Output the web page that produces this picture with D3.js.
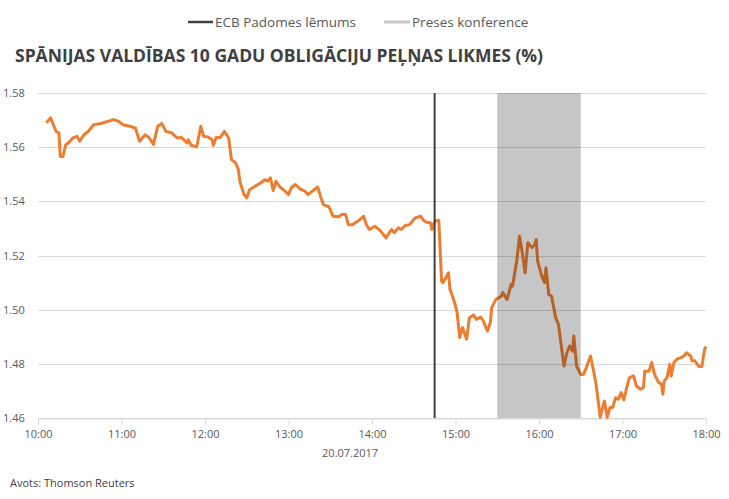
<!DOCTYPE html>
<html>
<head>
<meta charset="utf-8">
<script src="https://cdn.jsdelivr.net/npm/d3@7"></script>
<style>
  body { margin: 0; background: #fff; }
  text { font-family: 'Open Sans', sans-serif; fill: #595959; }
</style>
</head>
<body>
<div id="chart"></div>
<script>
// yield series
const times = ['10:06', '10:09', '10:11', '10:13', '10:15', '10:16', '10:18', '10:20', '10:22', '10:25',
  '10:28', '10:30', '10:33', '10:36', '10:40', '10:45', '10:47', '10:52', '10:54', '10:58',
  '11:01', '11:06', '11:10', '11:13', '11:17', '11:20', '11:23', '11:26', '11:29', '11:32',
  '11:36', '11:40', '11:43', '11:47', '11:48', '11:50', '11:54', '11:57', '11:59', '12:02',
  '12:05', '12:06', '12:08', '12:11', '12:14', '12:17', '12:19', '12:22', '12:24', '12:25',
  '12:28', '12:30', '12:32', '12:36', '12:39', '12:43', '12:45', '12:47', '12:49', '12:51',
  '12:54', '12:57', '13:00', '13:02', '13:05', '13:08', '13:12', '13:14', '13:18', '13:21',
  '13:23', '13:25', '13:29', '13:32', '13:36', '13:38', '13:41', '13:43', '13:46', '13:50',
  '13:54', '13:56', '13:58', '14:02', '14:06', '14:10', '14:14', '14:16', '14:19', '14:21',
  '14:24', '14:27', '14:31', '14:35', '14:37', '14:39', '14:42', '14:43', '14:45', '14:48',
  '14:50', '14:51', '14:53', '14:55', '14:56', '14:59', '15:01', '15:03', '15:05', '15:08',
  '15:10', '15:13', '15:15', '15:18', '15:20', '15:23', '15:25', '15:26', '15:29', '15:33',
  '15:34', '15:37', '15:40', '15:41', '15:44', '15:46', '15:48', '15:50', '15:52', '15:55',
  '15:57', '15:58', '15:59', '16:02', '16:04', '16:05', '16:07', '16:09', '16:12', '16:14',
  '16:16', '16:18', '16:20', '16:22', '16:24', '16:25', '16:27', '16:30', '16:32', '16:34',
  '16:37', '16:39', '16:41', '16:44', '16:47', '16:49', '16:51', '16:53', '16:55', '16:57',
  '16:59', '17:01', '17:03', '17:05', '17:08', '17:10', '17:13', '17:15', '17:16', '17:19',
  '17:21', '17:23', '17:26', '17:28', '17:29', '17:30', '17:32', '17:34', '17:35', '17:37',
  '17:39', '17:42', '17:44', '17:46', '17:49', '17:50', '17:52', '17:55', '17:57', '17:59',
  '18:00'];

const yields = [1.569, 1.5708, 1.5683, 1.5658, 1.5653, 1.5566, 1.5566, 1.561, 1.5616, 1.5634,
  1.564, 1.5622, 1.5646, 1.5658, 1.5683, 1.5687, 1.569, 1.5698, 1.5702, 1.5695,
  1.5683, 1.5677, 1.5671, 1.5622, 1.5646, 1.5634, 1.561, 1.5677, 1.5687, 1.5658,
  1.5653, 1.5634, 1.5636, 1.5616, 1.5628, 1.5607, 1.5601, 1.5677, 1.564, 1.5638,
  1.5628, 1.5607, 1.5636, 1.5636, 1.5658, 1.5634, 1.5554, 1.5542, 1.5517, 1.5474,
  1.5425, 1.5413, 1.5443, 1.5456, 1.5465, 1.548, 1.5474, 1.5487, 1.544, 1.5474,
  1.5452, 1.544, 1.5425, 1.545, 1.5462, 1.5447, 1.5437, 1.5425, 1.5441, 1.5453,
  1.5419, 1.5388, 1.538, 1.5345, 1.5343, 1.5351, 1.5351, 1.5314, 1.5314, 1.5327,
  1.5345, 1.5314, 1.5296, 1.5308, 1.5292, 1.5265, 1.5296, 1.5284, 1.5302, 1.5296,
  1.5311, 1.5314, 1.5339, 1.5345, 1.533, 1.5323, 1.5321, 1.5296, 1.5327, 1.533,
  1.5105, 1.51, 1.5118, 1.5136, 1.5075, 1.5032, 1.4995, 1.4897, 1.4934, 1.4891,
  1.497, 1.498, 1.4964, 1.4973, 1.4958, 1.4921, 1.4952, 1.5007, 1.5038, 1.505,
  1.5063, 1.5038, 1.5093, 1.5087, 1.5179, 1.5271, 1.521, 1.5136, 1.5247, 1.5229,
  1.5241, 1.5259, 1.5179, 1.5124, 1.51, 1.5155, 1.5056, 1.505, 1.497, 1.4946,
  1.4866, 1.4792, 1.4841, 1.4866, 1.4847, 1.4903, 1.4792, 1.4761, 1.4761, 1.4786,
  1.4829, 1.478, 1.4725, 1.4603, 1.4663, 1.4602, 1.4639, 1.4639, 1.4675, 1.4669,
  1.4694, 1.4667, 1.4712, 1.4749, 1.4755, 1.4718, 1.4706, 1.4712, 1.4773, 1.4773,
  1.4805, 1.4761, 1.4731, 1.4725, 1.4688, 1.4737, 1.4749, 1.4798, 1.4755, 1.4805,
  1.4817, 1.4823, 1.4829, 1.4841, 1.4829, 1.4811, 1.4811, 1.479, 1.479, 1.4854,
  1.4864];

const yTicks = [1.46, 1.48, 1.50, 1.52, 1.54, 1.56, 1.58];
const xTicks = ['10:00', '11:00', '12:00', '13:00', '14:00', '15:00', '16:00', '17:00', '18:00'];
const ecbTime = '14:45';
const pressConf = ['15:30', '16:30'];

const title = 'SPĀNIJAS VALDĪBAS 10 GADU OBLIGĀCIJU PEĻŅAS LIKMES (%)';
const legendLabels = ['ECB Padomes lēmums', 'Preses konference'];
const dateLabel = '20.07.2017';
const source = 'Avots: Thomson Reuters';

const width = 729;
const height = 499;
const margin = { top: 93, right: 23, bottom: 81, left: 38 };

const parse = d3.timeParse('%H:%M');
const data = times.map((t, i) => ({ t: parse(t), v: yields[i] }));

const svg = d3.select('#chart')
  .append('svg')
  .attr('width', width)
  .attr('height', height);

const x = d3.scaleTime()
  .domain([parse('10:00'), parse('18:00')])
  .range([margin.left, width - margin.right]);

const y = d3.scaleLinear()
  .domain([1.46, 1.58])
  .range([height - margin.bottom, margin.top]);

// gridlines
svg.append('g')
  .selectAll('line')
  .data(yTicks)
  .enter()
  .append('line')
  .attr('x1', margin.left)
  .attr('x2', width - margin.right)
  .attr('y1', d => Math.round(y(d)) + 0.5)
  .attr('y2', d => Math.round(y(d)) + 0.5)
  .attr('stroke', '#d9d9d9')
  .attr('stroke-width', 1);

// y labels
svg.append('g')
  .selectAll('text')
  .data(yTicks)
  .enter()
  .append('text')
  .attr('x', 3)
  .attr('y', d => y(d) + 4)
  .attr('font-size', 11)
  .text(d => d3.format('.2f')(d));

// x axis
const xAxis = d3.axisBottom(x)
  .tickValues(xTicks.map(parse))
  .tickFormat(d3.timeFormat('%H:%M'))
  .tickSizeInner(6)
  .tickSizeOuter(0)
  .tickPadding(6);

const ax = svg.append('g')
  .attr('transform', `translate(0, ${Math.round(y(1.46)) + 0.5})`)
  .call(xAxis);
ax.select('.domain').attr('stroke', '#d9d9d9');
ax.selectAll('.tick line').attr('stroke', '#d9d9d9');
ax.selectAll('.tick text')
  .attr('font-family', "'Open Sans', sans-serif")
  .attr('font-size', 11)
  .attr('fill', '#595959');

// the series
const line = d3.line()
  .x(d => x(d.t))
  .y(d => y(d.v))
  .curve(d3.curveLinear);

svg.append('path')
  .datum(data)
  .attr('d', line)
  .attr('fill', 'none')
  .attr('stroke', '#ED7D31')
  .attr('stroke-width', 3)
  .attr('stroke-linejoin', 'round');

// press conference band, laid over the line
svg.append('rect')
  .attr('x', x(parse(pressConf[0])))
  .attr('y', margin.top)
  .attr('width', x(parse(pressConf[1])) - x(parse(pressConf[0])))
  .attr('height', y(1.46) - margin.top)
  .attr('fill', '#000')
  .attr('fill-opacity', 0.224);

// ECB decision
svg.append('line')
  .attr('x1', x(parse(ecbTime)))
  .attr('x2', x(parse(ecbTime)))
  .attr('y1', margin.top)
  .attr('y2', y(1.46))
  .attr('stroke', '#404040')
  .attr('stroke-width', 2);

// legend
const legend = svg.append('g');
legend.append('line')
  .attr('x1', 188).attr('x2', 213)
  .attr('y1', 22).attr('y2', 22)
  .attr('stroke', '#404040')
  .attr('stroke-width', 2.5);
legend.append('text')
  .attr('x', 215).attr('y', 27)
  .attr('font-size', 13.5)
  .text(legendLabels[0]);
legend.append('line')
  .attr('x1', 384).attr('x2', 410)
  .attr('y1', 22).attr('y2', 22)
  .attr('stroke', '#c6c6c6')
  .attr('stroke-width', 3);
legend.append('text')
  .attr('x', 412).attr('y', 27)
  .attr('font-size', 13.5)
  .text(legendLabels[1]);

// title
svg.append('text')
  .attr('x', 15)
  .attr('y', 62)
  .attr('font-size', 17)
  .attr('font-weight', 'bold')
  .style('fill', '#404040')
  .attr('textLength', 528)
  .attr('lengthAdjust', 'spacingAndGlyphs')
  .text(title);

svg.append('text')
  .attr('x', x(parse('13:45')) - 1)
  .attr('y', 457)
  .attr('text-anchor', 'middle')
  .attr('font-size', 11)
  .text(dateLabel);

svg.append('text')
  .attr('x', 10)
  .attr('y', 487)
  .attr('font-size', 11)
  .style('fill', '#404040')
  .text(source);
</script>
</body>
</html>
